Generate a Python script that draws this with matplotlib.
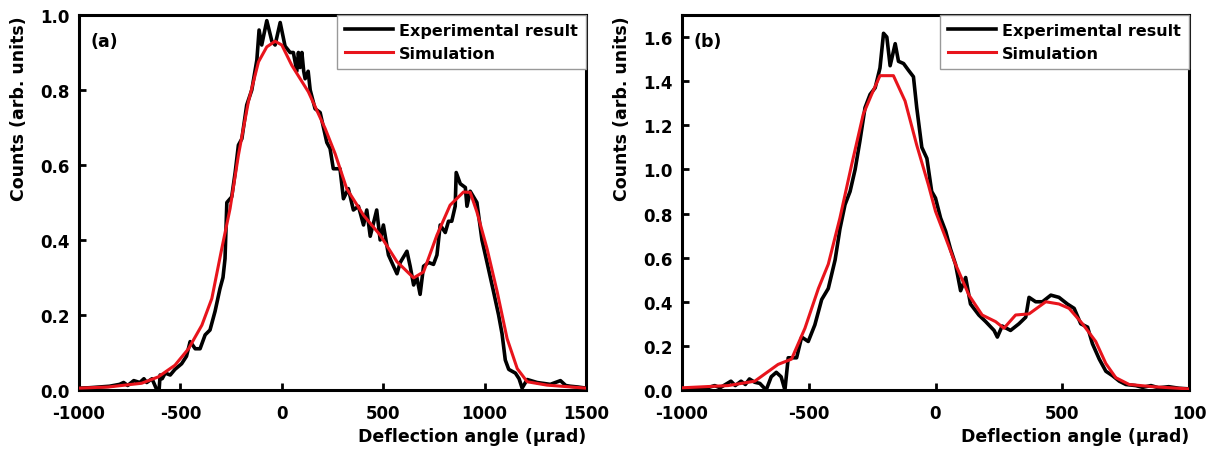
import matplotlib
matplotlib.use("Agg")
import matplotlib.pyplot as plt

plt.rcParams['font.family'] = ['DejaVu Sans']
plt.rcParams['font.weight'] = 'bold'

# ---- Panel (a) ----
a_exp_x = [-1000, -950, -900, -850, -800, -780, -760, -730, -700, -680, -666, -640, -620, -605, -600,
           -590, -575, -550, -527, -494, -470, -452, -440, -427, -403, -378, -354, -329, -305, -290,
           -280, -271, -247, -230, -214, -197, -173, -148, -123, -112, -99, -74, -49, -33, -8, 16,
           41, 57, 74, 82, 90, 99, 108, 115, 130, 140, 164, 189, 222, 238, 254, 287, 304, 328,
           353, 378, 403, 419, 436, 468, 485, 501, 526, 551, 568, 584, 617, 633, 650, 666, 682,
           699, 724, 748, 765, 781, 806, 822, 838, 855, 860, 880, 905, 913, 929, 962, 987, 1012,
           1045, 1069, 1086, 1102, 1119, 1152, 1170, 1185, 1210, 1259, 1324, 1374, 1400, 1423,
           1460, 1500]
a_exp_y = [0.005, 0.006, 0.008, 0.01, 0.015, 0.02, 0.012, 0.025, 0.02, 0.03, 0.02, 0.03, 0.005, 0.0,
           0.04, 0.03, 0.045, 0.04, 0.055, 0.07, 0.09, 0.129, 0.12, 0.11, 0.11, 0.147, 0.16, 0.21,
           0.27, 0.3, 0.35, 0.50, 0.515, 0.58, 0.653, 0.67, 0.76, 0.80, 0.88, 0.96, 0.92, 0.985,
           0.93, 0.92, 0.98, 0.917, 0.90, 0.90, 0.85, 0.90, 0.86, 0.90, 0.85, 0.83, 0.85, 0.80,
           0.75, 0.74, 0.66, 0.644, 0.59, 0.59, 0.51, 0.537, 0.48, 0.49, 0.44, 0.48, 0.41, 0.48,
           0.40, 0.44, 0.36, 0.33, 0.31, 0.34, 0.37, 0.33, 0.28, 0.30, 0.255, 0.33, 0.34, 0.335,
           0.36, 0.44, 0.42, 0.45, 0.45, 0.49, 0.58, 0.55, 0.54, 0.49, 0.53, 0.50, 0.40, 0.34,
           0.26, 0.20, 0.15, 0.08, 0.055, 0.045, 0.03, 0.005, 0.028, 0.02, 0.015, 0.025, 0.012,
           0.01, 0.008, 0.005]

a_sim_x = [-1000, -856, -691, -609, -527, -460, -394, -345, -296, -255, -214, -165, -115, -74, -33,
           0, 49, 131, 214, 263, 320, 403, 485, 568, 650, 699, 765, 830, 896, 929, 962, 1012, 1062,
           1111, 1161, 1210, 1308, 1500]
a_sim_y = [0.005, 0.008, 0.018, 0.035, 0.066, 0.11, 0.173, 0.244, 0.377, 0.484, 0.626, 0.768, 0.875,
           0.915, 0.930, 0.920, 0.866, 0.795, 0.697, 0.630, 0.537, 0.466, 0.413, 0.342, 0.299,
           0.315, 0.413, 0.493, 0.528, 0.527, 0.475, 0.377, 0.262, 0.137, 0.057, 0.022, 0.013,
           0.005]

# ---- Panel (b) ----
b_exp_x = [-1000, -950, -900, -871, -850, -807, -790, -767, -750, -734, -713, -693, -668, -648,
           -628, -609, -594, -581, -548, -528, -502, -476, -449, -423, -396, -377, -357, -337,
           -317, -298, -278, -258, -238, -219, -205, -192, -179, -159, -146, -126, -107, -87, -74,
           -54, -34, -15, 0, 20, 40, 59, 79, 99, 119, 138, 171, 198, 231, 244, 263, 296, 329,
           356, 369, 395, 422, 455, 487, 520, 547, 573, 600, 619, 646, 672, 698, 725, 751, 790,
           817, 850, 880, 920, 960, 1000]
b_exp_y = [0.005, 0.008, 0.01, 0.02, 0.01, 0.04, 0.02, 0.04, 0.025, 0.05, 0.035, 0.03, 0.0, 0.06,
           0.08, 0.06, 0.0, 0.146, 0.146, 0.24, 0.22, 0.295, 0.41, 0.46, 0.59, 0.73, 0.84, 0.90,
           1.0, 1.13, 1.28, 1.34, 1.37, 1.46, 1.617, 1.60, 1.47, 1.57, 1.49, 1.48, 1.45, 1.42,
           1.28, 1.10, 1.05, 0.90, 0.87, 0.78, 0.72, 0.64, 0.57, 0.45, 0.51, 0.39, 0.34, 0.31,
           0.27, 0.24, 0.29, 0.27, 0.30, 0.33, 0.42, 0.40, 0.40, 0.43, 0.42, 0.39, 0.37, 0.30,
           0.285, 0.21, 0.14, 0.085, 0.065, 0.04, 0.025, 0.02, 0.012, 0.02, 0.01, 0.015, 0.008,
           0.005]

b_sim_x = [-1000, -818, -713, -621, -568, -515, -462, -423, -377, -331, -285, -252, -219, -166,
           -120, -74, -28, 0, 40, 79, 132, 184, 237, 270, 316, 369, 435, 487, 527, 580, 632, 672,
           711, 764, 856, 1000]
b_sim_y = [0.01, 0.02, 0.04, 0.116, 0.14, 0.28, 0.46, 0.57, 0.78, 1.02, 1.25, 1.34, 1.425, 1.425,
           1.31, 1.11, 0.93, 0.81, 0.69, 0.57, 0.43, 0.34, 0.31, 0.28, 0.34, 0.345, 0.40, 0.39,
           0.37, 0.30, 0.22, 0.12, 0.056, 0.025, 0.015, 0.005]

panels = [
    dict(tag="(a)", ex=a_exp_x, ey=a_exp_y, sx=a_sim_x, sy=a_sim_y,
         xlim=(-1000, 1500), xticks=[-1000, -500, 0, 500, 1000, 1500],
         xticklabels=["-1000", "-500", "0", "500", "1000", "1500"],
         ylim=(0, 1.0), yticks=[0.0, 0.2, 0.4, 0.6, 0.8, 1.0],
         rect=[79 / 1221, 1 - 391 / 452, 507 / 1221, 375 / 452]),
    dict(tag="(b)", ex=b_exp_x, ey=b_exp_y, sx=b_sim_x, sy=b_sim_y,
         xlim=(-1000, 1000), xticks=[-1000, -500, 0, 500, 1000],
         xticklabels=["-1000", "-500", "0", "500", "100"],
         ylim=(0, 1.7), yticks=[0.0, 0.2, 0.4, 0.6, 0.8, 1.0, 1.2, 1.4, 1.6],
         rect=[682 / 1221, 1 - 391 / 452, 507 / 1221, 375 / 452]),
]

fig = plt.figure(figsize=(12.21, 4.52), dpi=100)

for p in panels:
    ax = fig.add_axes(p["rect"])
    ax.plot(p["ex"], p["ey"], color="black", lw=2.6, label="Experimental result", zorder=2)
    ax.plot(p["sx"], p["sy"], color="#e8141c", lw=2.2, label="Simulation", zorder=3)
    ax.set_xlim(*p["xlim"])
    ax.set_ylim(*p["ylim"])
    ax.set_xticks(p["xticks"])
    ax.set_xticklabels(p["xticklabels"])
    ax.set_yticks(p["yticks"])
    ax.set_yticklabels([f"{v:.1f}" for v in p["yticks"]])
    ax.tick_params(direction="in", length=5, width=2, labelsize=12)
    ax.tick_params(axis="x", pad=10)
    ax.tick_params(axis="y", pad=6.5)
    for sp in ax.spines.values():
        sp.set_linewidth(2.2)
    ax.set_xlabel("Deflection angle (μrad)", fontsize=12.5, fontweight="bold", loc="right", labelpad=4)
    ax.set_ylabel("Counts (arb. units)", fontsize=12.5, fontweight="bold", loc="top", labelpad=9)
    ax.text(0.022, 0.955, p["tag"], transform=ax.transAxes, fontsize=12.5, fontweight="bold",
            va="top", ha="left")
    leg = ax.legend(loc="upper right", borderaxespad=0, fancybox=False, framealpha=1,
                    edgecolor="#999999", fontsize=11.5, handlelength=3.0, handletextpad=0.4,
                    borderpad=0.5, labelspacing=0.5)
    leg.get_frame().set_linewidth(1.0)

fig.savefig("out.png", dpi=100)
